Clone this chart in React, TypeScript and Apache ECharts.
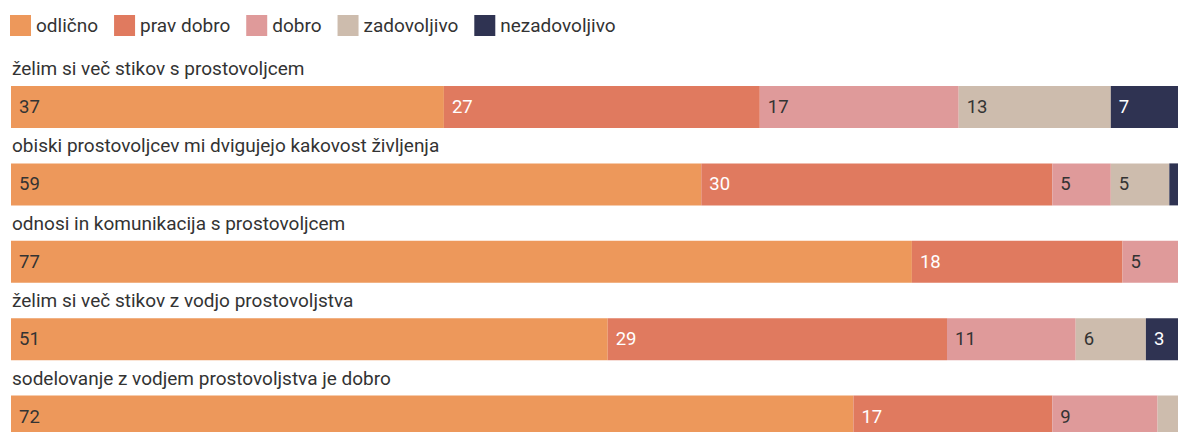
import React, { useEffect, useRef } from "react";
import * as echarts from "echarts";

const categories = [
  "želim si več stikov s prostovoljcem",
  "obiski prostovoljcev mi dvigujejo kakovost življenja",
  "odnosi in komunikacija s prostovoljcem",
  "želim si več stikov z vodjo prostovoljstva",
  "sodelovanje z vodjem prostovoljstva je dobro",
];

const seriesNames = ["odlično", "prav dobro", "dobro", "zadovoljivo", "nezadovoljivo"];
const odlicno = [37, 59, 77, 51, 72];
const pravDobro = [27, 30, 18, 29, 17];
const dobro = [17, 5, 5, 11, 9];
const zadovoljivo = [13, 5, 0, 6, 2];
const nezadovoljivo = [7, 1, 0, 3, 0];

const colors = ["#ED985B", "#E07A5F", "#DF9A9A", "#CDBCAD", "#2F3352"];
const labelColors = ["#333333", "#FFFFFF", "#333333", "#333333", "#FFFFFF"];

export default function App() {
  const ref = useRef<HTMLDivElement>(null);
  useEffect(() => {
    if (!ref.current) return;
    const chart = echarts.init(ref.current, undefined, { renderer: "svg" });
    const values = [odlicno, pravDobro, dobro, zadovoljivo, nezadovoljivo];
    const font = "Roboto, 'Noto Sans', sans-serif";
    chart.setOption({
      animation: false,
      textStyle: { fontFamily: font },
      legend: {
        top: 15,
        left: 10,
        padding: 0,
        icon: "rect",
        itemWidth: 21,
        itemHeight: 21,
        itemGap: 16,
        textStyle: { fontSize: 19, color: "#333333", fontFamily: font },
        data: seriesNames,
      },
      grid: { left: 11, top: 68.3, width: 1287, height: 387, outerBoundsMode: "none", containLabel: false },
      xAxis: { type: "value", min: 0, max: 110, show: false },
      yAxis: {
        type: "category",
        inverse: true,
        data: categories,
        axisLine: { show: false },
        axisTick: { show: false },
        splitLine: { show: false },
        axisLabel: {
          inside: true,
          interval: 0,
          margin: 1,
          fontSize: 19,
          color: "#333333",
          fontFamily: font,
          verticalAlign: "bottom",
          padding: [0, 0, 29, 0],
        },
      },
      series: seriesNames.map((name, i) => ({
        name,
        type: "bar",
        stack: "total",
        barWidth: 42,
        data: values[i],
        itemStyle: { color: colors[i] },
        label: {
          show: true,
          position: "insideLeft",
          distance: 8,
          fontSize: 18.5,
          color: labelColors[i],
          fontFamily: font,
          formatter: (p: any) => (p.value >= 3 ? String(p.value) : ""),
        },
      })),
    });
    return () => chart.dispose();
  }, []);
  return (
    <div
      ref={ref}
      style={{ position: "absolute", left: 0, top: 0, width: 1178, height: 432, background: "#fff" }}
    />
  );
}
